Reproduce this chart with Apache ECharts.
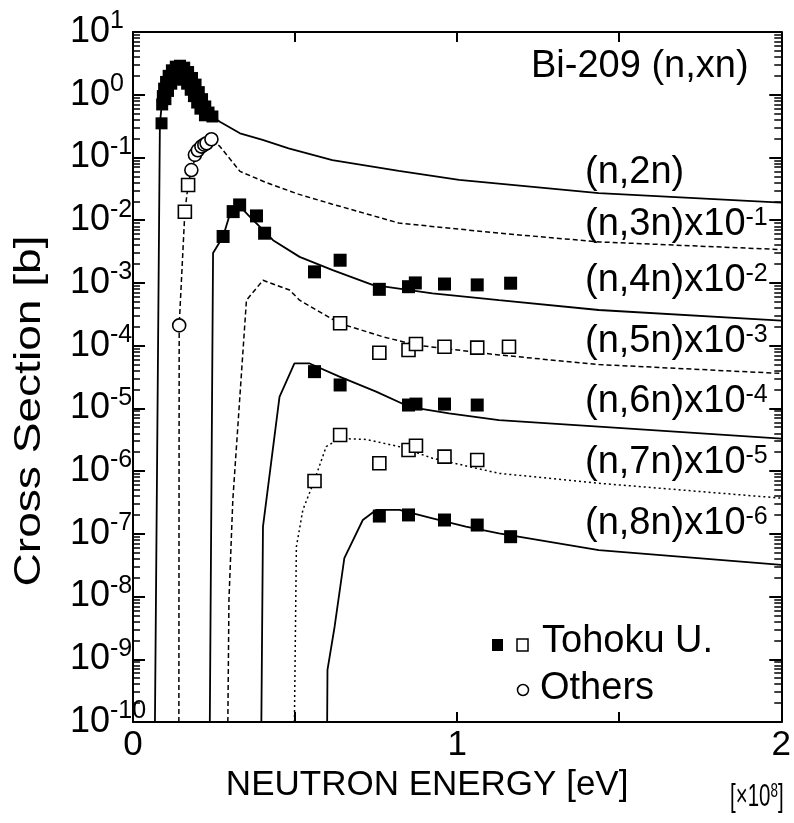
<!DOCTYPE html>
<html>
<head>
<meta charset="utf-8">
<script src="https://cdn.jsdelivr.net/npm/echarts@6/dist/echarts.min.js"></script>
<style>
html,body{margin:0;padding:0;background:#fff;}
#chart{width:794px;height:823px;}
</style>
</head>
<body>
<div id="chart"></div>
<script>
// Energy in units of 1e8 eV; cross sections as plotted (already multiplied by the label factor)
const curve2n = [[0.0677,1e-10],[0.083,0.35],[0.09,0.8],[0.10,1.3],[0.12,2.2],[0.14,2.6],[0.16,2.4],[0.18,1.8],[0.20,1.1],[0.225,0.65],[0.245,0.45],[0.268,0.37],[0.33,0.243],[0.40,0.19],[0.48,0.14],[0.615,0.091],[0.82,0.061],[1.006,0.044],[1.437,0.027],[2.0,0.019]];
const curve3n = [[0.1415,1e-10],[0.1425,2.1e-4],[0.16,0.0136],[0.17,0.0364],[0.18,0.063],[0.2,0.13],[0.242,0.195],[0.268,0.15],[0.33,0.06],[0.41,0.04],[0.51,0.026],[0.615,0.018],[0.82,0.009],[1.13,0.0062],[1.44,0.0045],[2.0,0.0034]];
const curve4n = [[0.237,1e-10],[0.247,3.0e-3],[0.278,5.5e-3],[0.300,0.013],[0.319,0.019],[0.36,0.0114],[0.411,6.2e-3],[0.432,4.8e-3],[0.514,2.6e-3],[0.616,1.6e-3],[0.739,9.3e-4],[0.924,6.8e-4],[1.129,5.3e-4],[1.437,3.7e-4],[2.0,2.5e-4]];
const curve5n = [[0.2926,1e-10],[0.296,8.8e-9],[0.308,3.5e-7],[0.329,1.36e-5],[0.35,5.3e-4],[0.401,1.1e-3],[0.483,7.7e-4],[0.514,5.3e-4],[0.637,2.27e-4],[0.77,1.39e-4],[0.873,1.02e-4],[1.129,7.1e-5],[1.437,5.0e-5],[2.0,3.6e-5]];
const curve6n = [[0.396,1e-10],[0.401,1.3e-7],[0.452,1.53e-5],[0.498,5.2e-5],[0.545,5.2e-5],[0.637,3.2e-5],[0.75,1.85e-5],[0.852,1.06e-5],[0.975,8.3e-6],[1.129,6.5e-6],[1.437,5.1e-6],[2.0,3.3e-6]];
const curve7n = [[0.498,1e-10],[0.504,6.2e-8],[0.524,2.4e-7],[0.56,7.2e-7],[0.596,2.45e-6],[0.637,3.3e-6],[0.719,3.2e-6],[0.822,2.45e-6],[0.924,1.6e-6],[1.129,9.2e-7],[1.437,6.4e-7],[2.0,3.7e-7]];
const curve8n = [[0.599,1e-10],[0.6,6.8e-10],[0.622,3.3e-9],[0.652,4.1e-8],[0.709,1.66e-7],[0.75,2.4e-7],[0.822,2.4e-7],[0.924,1.77e-7],[1.027,1.3e-7],[1.129,1.02e-7],[1.437,5.5e-8],[2.0,3.2e-8]];

// Tohoku U. (filled squares)
const tohokuFilled2n = [[0.088,0.35],[0.090,0.70],[0.092,0.95],[0.096,1.25],[0.102,1.6],[0.110,2.0],[0.120,2.45],[0.132,2.8],[0.145,2.9],[0.158,2.7],[0.170,2.3],[0.182,1.85],[0.193,1.45],[0.203,1.1],[0.213,0.85],[0.223,0.65],[0.233,0.52],[0.245,0.45],[0.100,0.85],[0.108,1.15],[0.118,1.5],[0.130,1.75],[0.142,1.85],[0.155,1.75],[0.167,1.5],[0.178,1.2],[0.188,0.95],[0.198,0.75],[0.208,0.6],[0.222,0.47]];
const tohokuFilled4n = [[0.278,5.5e-3],[0.309,0.0137],[0.329,0.0175],[0.381,0.0117],[0.406,6.2e-3],[0.56,1.5e-3],[0.639,2.3e-3],[0.76,7.9e-4],[0.85,8.7e-4],[0.871,1.0e-3],[0.961,9.6e-4],[1.062,9.3e-4],[1.165,9.9e-4]];
const tohokuFilled6n = [[0.56,3.85e-5],[0.639,2.36e-5],[0.85,1.13e-5],[0.873,1.17e-5],[0.961,1.17e-5],[1.062,1.13e-5]];
const tohokuFilled8n = [[0.76,1.92e-7],[0.85,2.0e-7],[0.961,1.66e-7],[1.062,1.38e-7],[1.165,9.0e-8]];
// Tohoku U. (open squares)
const tohokuOpen3n = [[0.16,0.0136],[0.17,0.0364]];
const tohokuOpen5n = [[0.639,2.27e-4],[0.76,7.7e-5],[0.85,8.5e-5],[0.873,1.06e-4],[0.961,9.6e-5],[1.062,9.3e-5],[1.16,9.6e-5]];
const tohokuOpen7n = [[0.56,6.95e-7],[0.639,3.77e-6],[0.76,1.33e-6],[0.85,2.17e-6],[0.873,2.54e-6],[0.961,1.7e-6],[1.062,1.5e-6]];
// Others (open circles)
const others3n = [[0.1425,2.1e-4],[0.18,0.063],[0.191,0.11],[0.2,0.13],[0.211,0.149],[0.220,0.16],[0.227,0.168],[0.242,0.195]];

const curveLabels = [
  {text:'(n,2n)', exp:''},
  {text:'(n,3n)x10', exp:'-1'},
  {text:'(n,4n)x10', exp:'-2'},
  {text:'(n,5n)x10', exp:'-3'},
  {text:'(n,6n)x10', exp:'-4'},
  {text:'(n,7n)x10', exp:'-5'},
  {text:'(n,8n)x10', exp:'-6'}
];
const curveLabelY = [176, 228, 284, 345, 405, 466, 527];
const xTickLabels = ['0','1','2'];

const FONT = '"Liberation Sans", Arial, Helvetica, sans-serif';
const chart = echarts.init(document.getElementById('chart'), null, {renderer:'canvas'});

function lineSeries(data, dash, width) {
  return {type:'line', data:data, showSymbol:false, symbol:'none', clip:true, animation:false, silent:true, z:2,
    lineStyle:{color:'#000', width:width, type:dash, opacity:1}};
}
function scatter(data, symbol, filled, size) {
  return {type:'scatter', data:data, symbol:symbol, symbolSize:size, clip:true, animation:false, silent:true, z:5,
    itemStyle: filled ? {color:'#000', borderColor:'#000', borderWidth:0, opacity:1} : {color:'#fff', borderColor:'#000', borderWidth:1.6, opacity:1}};
}

const axisLineStyle = {show:true, onZero:false, lineStyle:{color:'#000', width:2}};
const noLine = {show:false, onZero:false};

// tick-only axes sitting just inside the frame, with outward ticks reaching the frame line
function xTickAxis(position, len) {
  return {type:'value', min:0, max:2, interval:0.5, position:position, offset:-len,
    axisLine:noLine, axisTick:{show:true, inside:false, length:len, lineStyle:{color:'#000', width:2}},
    axisLabel:{show:false}, splitLine:{show:false}};
}
function yTickAxis(position, len, withMinor) {
  return {type:'log', logBase:10, min:1e-10, max:10, interval:1, position:position, offset:-len,
    axisLine:noLine, axisTick:{show:true, inside:false, length:len, lineStyle:{color:'#000', width:2}},
    minorTick:{show:withMinor, splitNumber:9, length:len, lineStyle:{color:'#000', width:1.5}},
    axisLabel:{show:false}, splitLine:{show:false}, minorSplitLine:{show:false}};
}

const graphics = [];
graphics.push({type:'text', left:531, top:48, style:{text:'Bi-209 (n,xn)', font:'38px '+FONT, fill:'#000'}});
curveLabels.forEach(function(l, i){
  graphics.push({type:'text', left:585, top:curveLabelY[i]-22, style:{
    text: l.exp ? l.text + '{s|' + l.exp + '}' : l.text,
    font:'38px '+FONT, fill:'#000',
    rich:{s:{fontSize:25, fontFamily:FONT, fill:'#000', verticalAlign:'top', lineHeight:25}}
  }});
});
// legend
graphics.push({type:'rect', shape:{x:492, y:639, width:11, height:12}, style:{fill:'#000'}});
graphics.push({type:'rect', shape:{x:517, y:639, width:11, height:12}, style:{fill:'#fff', stroke:'#000', lineWidth:1.5}});
graphics.push({type:'text', left:542, top:623, style:{text:'Tohoku U.', font:'38px '+FONT, fill:'#000'}});
graphics.push({type:'circle', shape:{cx:523, cy:690, r:5.5}, style:{fill:'#fff', stroke:'#000', lineWidth:1.5}});
graphics.push({type:'text', left:540, top:670, style:{text:'Others', font:'38px '+FONT, fill:'#000'}});
// axis unit and y-axis title
graphics.push({type:'text', left:730, top:781, scaleX:0.64, style:{text:'[\u00d710{s|8}]', font:'32px '+FONT, fill:'#000',
  rich:{s:{fontSize:21, fontFamily:FONT, fill:'#000', verticalAlign:'top', lineHeight:21}}}});
graphics.push({type:'text', x:30, y:411, rotation:Math.PI/2, scaleX:1.28,
  style:{text:'Cross Section [b]', font:'36px '+FONT, fill:'#000', align:'center', verticalAlign:'middle'}});

const option = {
  backgroundColor:'#fff',
  animation:false,
  grid:{left:133, right:11, top:32, bottom:101, containLabel:false},
  xAxis:[
    {type:'value', min:0, max:2, interval:0.5, position:'bottom',
     axisLine:axisLineStyle, axisTick:{show:false},
     axisLabel:{show:true, margin:6, color:'#000', fontSize:35, fontFamily:FONT,
       formatter:function(v){ const r = Math.round(v); return Math.abs(v-r) < 1e-9 ? xTickLabels[r] : ''; }},
     splitLine:{show:false},
     name:'NEUTRON ENERGY [eV]', nameLocation:'middle', nameGap:42,
     nameTextStyle:{fontSize:35, color:'#000', fontFamily:FONT, padding:[0,60,0,0]}},
    {type:'value', min:0, max:2, interval:0.5, position:'top',
     axisLine:axisLineStyle, axisTick:{show:false},
     axisLabel:{show:false}, splitLine:{show:false}},
    xTickAxis('bottom', 10),
    xTickAxis('top', 10)
  ],
  yAxis:[
    {type:'log', logBase:10, min:1e-10, max:10, interval:1, position:'left',
     axisLine:axisLineStyle, axisTick:{show:false},
     axisLabel:{show:true, align:'left', margin:63, color:'#000', fontFamily:FONT,
       formatter:function(v){ const e = Math.round(Math.log10(v)); return '{b|10}{s|' + e + '}'; },
       rich:{b:{fontSize:36, fontFamily:FONT, color:'#000', lineHeight:46, verticalAlign:'middle'},
             s:{fontSize:25, fontFamily:FONT, color:'#000', lineHeight:25, verticalAlign:'top'}}},
     splitLine:{show:false}, minorSplitLine:{show:false}},
    {type:'log', logBase:10, min:1e-10, max:10, interval:1, position:'right',
     axisLine:axisLineStyle, axisTick:{show:false},
     axisLabel:{show:false}, splitLine:{show:false}, minorSplitLine:{show:false}},
    yTickAxis('left', 12, false),
    yTickAxis('left', 7, true),
    yTickAxis('right', 12, false),
    yTickAxis('right', 7, true)
  ],
  series:[
    lineSeries(curve2n, 'solid', 1.8),
    lineSeries(curve3n, [5,3], 1.5),
    lineSeries(curve4n, 'solid', 1.8),
    lineSeries(curve5n, [5,3], 1.5),
    lineSeries(curve6n, 'solid', 1.8),
    lineSeries(curve7n, [2,3], 1.5),
    lineSeries(curve8n, 'solid', 1.8),
    scatter(tohokuFilled2n, 'rect', true, 12),
    scatter(tohokuFilled4n, 'rect', true, 13),
    scatter(tohokuFilled6n, 'rect', true, 13),
    scatter(tohokuFilled8n, 'rect', true, 13),
    scatter(tohokuOpen3n, 'rect', false, 13),
    scatter(tohokuOpen5n, 'rect', false, 13),
    scatter(tohokuOpen7n, 'rect', false, 13),
    scatter(others3n, 'circle', false, 13)
  ],
  graphic:graphics
};
chart.setOption(option);
</script>
</body>
</html>
